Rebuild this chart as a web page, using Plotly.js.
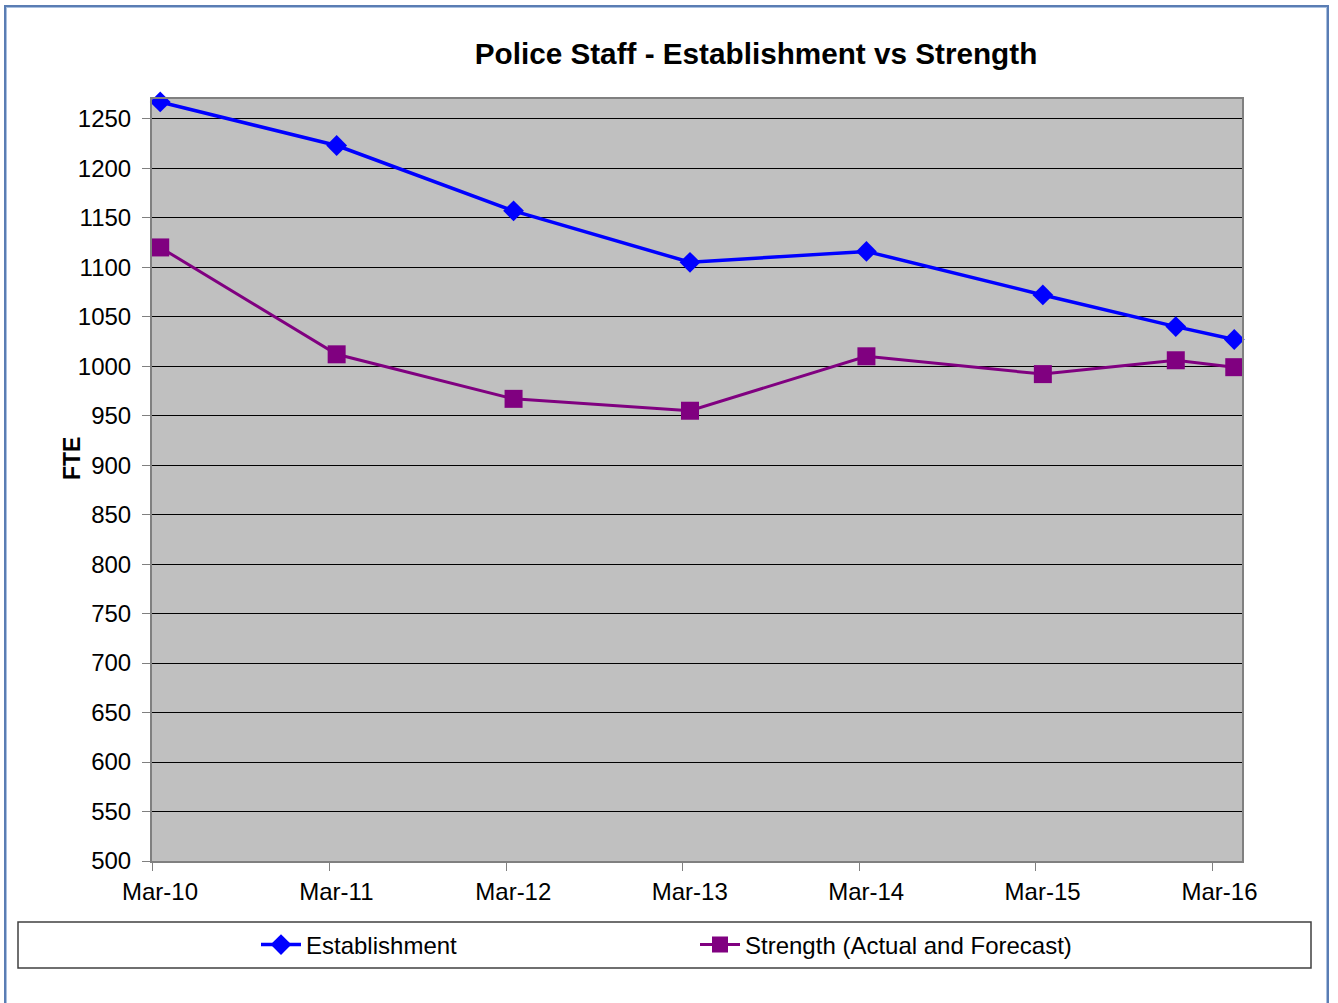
<!DOCTYPE html>
<html>
<head>
<meta charset="utf-8">
<script src="https://cdn.plot.ly/plotly-3.0.1.min.js"></script>
<style>
  html, body { margin: 0; padding: 0; background: #ffffff; overflow: hidden; }
  #wrap { position: relative; width: 1338px; height: 1003px; }
  #chart { position: absolute; left: 0; top: 0; width: 1338px; height: 1003px; }
  #frame { position: absolute; left: 4px; top: 5px; width: 1321px; height: 1010px;
           border: 2px solid #5a7db3; box-shadow: inset 0 0 0 1px #a9c0e0; pointer-events: none; }
</style>
</head>
<body>
<div id="wrap">
  <div id="chart"></div>
  <div id="frame"></div>
</div>
<script>
// ---- data ----
const dates = ['2010-03-31', '2011-03-31', '2012-03-31', '2013-03-31', '2014-03-31', '2015-03-31', '2015-12-31', '2016-04-30'];
const establishment = [1267, 1223, 1157, 1105, 1116, 1072, 1040, 1027];
const strength = [1120, 1012, 967, 955, 1010, 992, 1006, 999];
const seriesNames = ['Establishment', 'Strength (Actual and Forecast)'];
const chartTitle = 'Police Staff - Establishment vs Strength';
const yTitle = 'FTE';
const yTicks = [500, 550, 600, 650, 700, 750, 800, 850, 900, 950, 1000, 1050, 1100, 1150, 1200, 1250];

const FONT = 'Liberation Sans, Arial, sans-serif';

const traces = [
  {
    x: dates, y: establishment, name: seriesNames[0], type: 'scatter', mode: 'lines+markers',
    line: { color: '#0000FF', width: 3.5 },
    marker: { symbol: 'diamond', size: 16, color: '#0000FF' },
    cliponaxis: false
  },
  {
    x: dates, y: strength, name: seriesNames[1], type: 'scatter', mode: 'lines+markers',
    line: { color: '#800080', width: 3 },
    marker: { symbol: 'square', size: 18, color: '#800080' },
    cliponaxis: false
  }
];

// plot area in pixels: left 152, right 1242, top 99, bottom 861
const L = 152, R = 1242, T = 99, B = 861;
const W = R - L, H = B - T;
const px = v => (v - L) / W;
const py = v => (B - v) / H;

const layout = {
  width: 1338, height: 1003,
  margin: { l: L, r: 1338 - R, t: T, b: 1003 - B, pad: 0 },
  paper_bgcolor: '#ffffff',
  plot_bgcolor: '#C0C0C0',
  font: { family: FONT, size: 24, color: '#000000' },
  title: {
    text: '<b>' + chartTitle + '</b>',
    font: { family: FONT, size: 29.7, color: '#000000' },
    x: px(756), xanchor: 'center', xref: 'paper',
    y: 1 - 54 / 1003, yanchor: 'middle', yref: 'container'
  },
  xaxis: {
    type: 'date',
    range: ['2010-03-14', '2016-05-16'],
    tick0: '2010-03-16', dtick: 'M12',
    tickformat: '%b-%y',
    ticks: 'outside', ticklen: 8, tickcolor: '#808080', tickwidth: 1,
    showgrid: false, zeroline: false,
    showline: true, linecolor: '#808080', linewidth: 2, mirror: true,
    tickfont: { family: FONT, size: 24, color: '#000000' },
    ticklabelstandoff: 0,
    ticklabelshift: 7
  },
  yaxis: {
    range: [500, 1270],
    tickvals: yTicks,
    ticks: 'outside', ticklen: 8, tickcolor: '#808080', tickwidth: 1,
    showgrid: true, gridcolor: '#000000', gridwidth: 1,
    zeroline: false,
    showline: true, linecolor: '#808080', linewidth: 2, mirror: true,
    tickfont: { family: FONT, size: 24, color: '#000000' },
    ticklabelstandoff: 6
  },
  annotations: [
    {
      text: '<b>' + yTitle + '</b>', textangle: -90,
      xref: 'paper', yref: 'paper', x: px(72), y: py(459),
      xanchor: 'center', yanchor: 'middle', showarrow: false,
      font: { family: FONT, size: 23, color: '#000000' }
    }
  ],
  showlegend: true,
  legend: {
    orientation: 'h',
    x: px(256), xanchor: 'left',
    y: py(945), yanchor: 'middle',
    bgcolor: 'rgba(0,0,0,0)', borderwidth: 0,
    entrywidth: 384, entrywidthmode: 'pixels',
    font: { family: FONT, size: 24, color: '#000000' },
    itemwidth: 40, tracegroupgap: 0
  },
  shapes: [
    {
      type: 'rect', xref: 'paper', yref: 'paper',
      x0: px(18), x1: px(1311), y0: py(968), y1: py(922),
      line: { color: '#404040', width: 1.5 }, fillcolor: 'rgba(0,0,0,0)', layer: 'below'
    }
  ]
};

Plotly.newPlot('chart', traces, layout, { displayModeBar: false, staticPlot: true });
</script>
</body>
</html>
